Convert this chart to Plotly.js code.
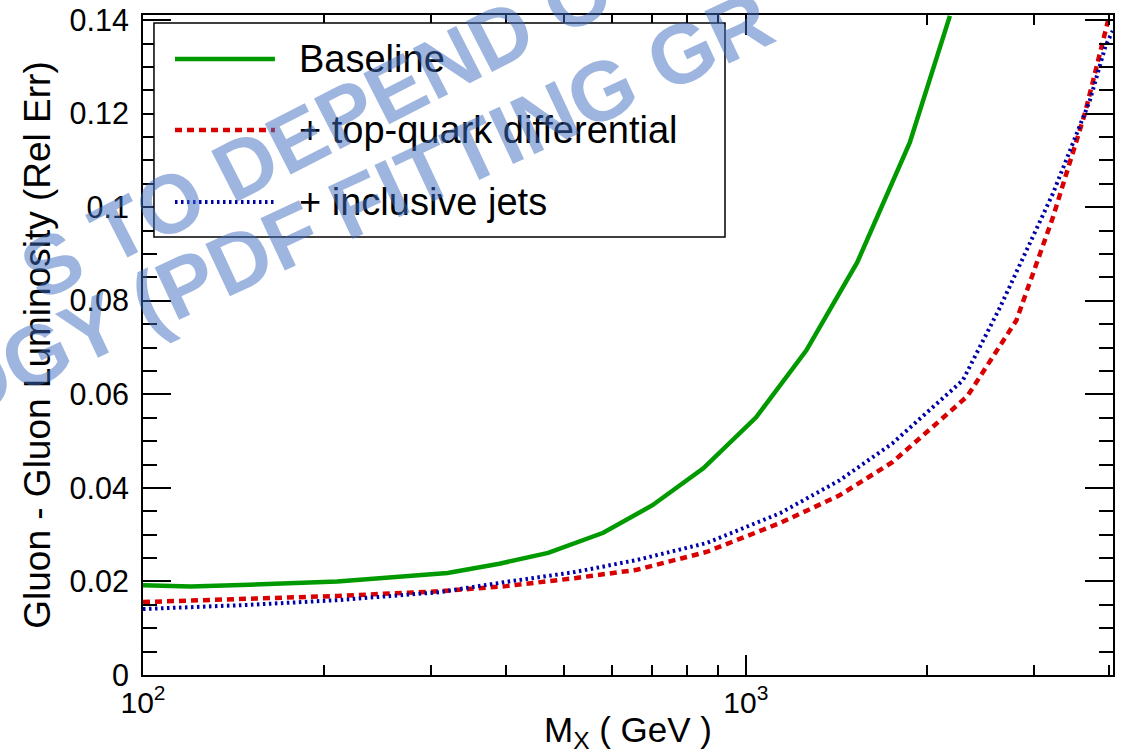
<!DOCTYPE html>
<html>
<head>
<meta charset="utf-8">
<script src="https://cdn.plot.ly/plotly-3.0.1.min.js"></script>
<style>
  html, body { margin: 0; padding: 0; background: #ffffff; }
  #chart { width: 1130px; height: 754px; }
</style>
</head>
<body>
<div id="chart"></div>
<script>
// ---- data ----
var massBaseline = [100, 120, 150, 210, 320, 390, 470, 580, 700, 850, 1040, 1260, 1530, 1870, 2180];
var relErrBaseline = [0.0192, 0.0189, 0.0193, 0.0200, 0.0218, 0.0238, 0.0261, 0.0304, 0.0363, 0.0442, 0.0551, 0.0694, 0.0882, 0.1138, 0.1409];

var massTop = [100, 120, 150, 210, 310, 400, 520, 660, 860, 1140, 1430, 1750, 2040, 2330, 2810, 3230, 3650, 3970, 4010];
var relErrTop = [0.0156, 0.0159, 0.0162, 0.0169, 0.0179, 0.0190, 0.0207, 0.0225, 0.0263, 0.0325, 0.0384, 0.0455, 0.0530, 0.0596, 0.0758, 0.0978, 0.1200, 0.1384, 0.1411];

var massJets = [100, 120, 150, 210, 310, 400, 520, 660, 860, 1140, 1430, 1750, 2040, 2290, 2640, 3230, 3720, 3950, 4060];
var relErrJets = [0.0141, 0.0145, 0.0150, 0.0160, 0.0177, 0.0199, 0.0220, 0.0246, 0.0282, 0.0346, 0.0416, 0.0495, 0.0572, 0.0630, 0.0786, 0.1029, 0.1228, 0.1345, 0.1377];

var seriesNames = ["Baseline", "+ top-quark differential", "+ inclusive jets"];
var xTickVals = [100, 1000];
var xTickText = ["10<sup>2</sup>", "10<sup>3</sup>"];
var xMinorVals = [200, 300, 400, 500, 600, 700, 800, 900, 2000, 3000, 4000];
var watermarkLines = ["S TO DEPEND O", "OGY (PDF FITTING GR"];

// ---- styles ----
var cGreen = "#009a00", cRed = "#d80000", cBlue = "#0000a8";
var fontMain = "Liberation Sans, Arial, Helvetica, sans-serif";

var traces = [
  { x: massBaseline, y: relErrBaseline, name: seriesNames[0], mode: "lines", type: "scatter",
    line: { color: cGreen, width: 4.5 } },
  { x: massTop, y: relErrTop, name: seriesNames[1], mode: "lines", type: "scatter",
    line: { color: cRed, width: 4.5, dash: "7px,5px" } },
  { x: massJets, y: relErrJets, name: seriesNames[2], mode: "lines", type: "scatter",
    line: { color: cBlue, width: 4, dash: "2.5px,3.5px" } }
];

// custom legend (layout only)
var legX0 = 0.0113, legX1 = 0.600, legY0 = 0.6636, legY1 = 0.9879;
var legRowY = [0.9333, 0.8258, 0.7167];
var legStyles = [
  { color: cGreen, width: 4.5, dash: "solid" },
  { color: cRed, width: 4.5, dash: "7px,5px" },
  { color: cBlue, width: 4, dash: "2.5px,3.5px" }
];
var shapes = [
  { type: "rect", xref: "paper", yref: "paper", x0: legX0, x1: legX1, y0: legY0, y1: legY1,
    line: { color: "#000", width: 1.5 }, fillcolor: "rgba(255,255,255,1)", layer: "above" }
];
var annotations = [];
for (var i = 0; i < seriesNames.length; i++) {
  shapes.push({ type: "line", xref: "paper", yref: "paper", x0: 0.033, x1: 0.136,
    y0: legRowY[i], y1: legRowY[i], line: legStyles[i], layer: "above" });
  annotations.push({ xref: "paper", yref: "paper", x: 0.1588, y: legRowY[i],
    xanchor: "left", yanchor: "middle", showarrow: false, text: seriesNames[i],
    font: { family: fontMain, size: 38, color: "#000" } });
}
// watermark (semi-transparent overlay text)
var wmColor = "rgba(62,110,192,0.5)";
annotations.push({ xref: "paper", yref: "paper", x: (316 - 143) / 970, y: (675 - 129) / 660,
  xanchor: "center", yanchor: "middle", showarrow: false, text: watermarkLines[0], textangle: -27,
  font: { family: "Liberation Sans, Arial, sans-serif", size: 83, color: wmColor, weight: 700 } });
annotations.push({ xref: "paper", yref: "paper", x: (357 - 143) / 970, y: (675 - 205) / 660,
  xanchor: "center", yanchor: "middle", showarrow: false, text: watermarkLines[1], textangle: -25,
  font: { family: "Liberation Sans, Arial, sans-serif", size: 84, color: wmColor, weight: 700 } });

var layout = {
  width: 1130, height: 754,
  margin: { l: 143, r: 17, t: 15, b: 79, pad: 0 },
  paper_bgcolor: "#ffffff", plot_bgcolor: "#ffffff",
  showlegend: false,
  font: { family: fontMain, color: "#000" },
  xaxis: {
    type: "log", range: [2, 3.609], autorange: false,
    showline: true, linecolor: "#000", linewidth: 2, mirror: "allticks",
    ticks: "inside", ticklen: 20, tickwidth: 1.5, tickcolor: "#000",
    tickmode: "array", tickvals: xTickVals, ticktext: xTickText,
    tickfont: { family: fontMain, size: 30, color: "#000" },
    minor: { tickmode: "array", tickvals: xMinorVals, ticks: "inside", ticklen: 10, tickwidth: 1.5, tickcolor: "#000", showgrid: false },
    showgrid: false, zeroline: false, automargin: false,
    title: { text: "M<sub>X</sub> ( GeV )", font: { family: fontMain, size: 35, color: "#000" }, standoff: 0 }
  },
  yaxis: {
    range: [0, 0.1411], autorange: false,
    showline: true, linecolor: "#000", linewidth: 2, mirror: "allticks",
    ticks: "inside", ticklen: 28, tickwidth: 1.5, tickcolor: "#000",
    dtick: 0.02, tick0: 0,
    tickfont: { family: fontMain, size: 30.5, color: "#000" },
    ticklabelstandoff: 6,
    minor: { dtick: 0.005, ticks: "inside", ticklen: 14, tickwidth: 1.5, tickcolor: "#000", showgrid: false },
    showgrid: false, zeroline: false, automargin: false,
    title: { text: "Gluon - Gluon Luminosity (Rel Err)", font: { family: fontMain, size: 37, color: "#000" }, standoff: 8 }
  },
  shapes: shapes,
  annotations: annotations
};

Plotly.newPlot("chart", traces, layout, { displayModeBar: false, responsive: false });
</script>
</body>
</html>
